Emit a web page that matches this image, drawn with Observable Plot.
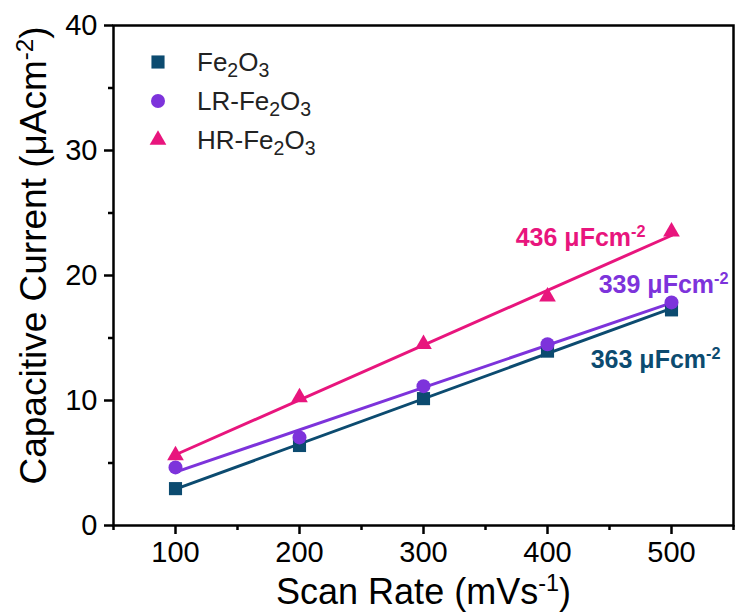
<!DOCTYPE html>
<html><head><meta charset="utf-8">
<script src="https://cdn.jsdelivr.net/npm/d3@7"></script>
<script src="https://cdn.jsdelivr.net/npm/@observablehq/plot@0.6"></script>
<style>
body{margin:0;background:#fff}
#chart{position:relative;width:735px;height:615px}
</style>
</head><body><div id="chart"></div>
<script>
// ---- data ----
const scanRates = [100, 200, 300, 400, 500];
const seriesNames = ["Fe_{2}O_{3}", "LR-Fe_{2}O_{3}", "HR-Fe_{2}O_{3}"];
const fe2o3 = [2.95, 6.4, 10.15, 13.95, 17.25];
const lrFe2o3 = [4.65, 7.05, 11.15, 14.5, 17.85];
const hrFe2o3 = [5.6, 10.25, 14.5, 18.3, 23.5];
const capacitanceLabels = ["363 μFcm^{-2}", "339 μFcm^{-2}", "436 μFcm^{-2}"];
const xTicks = [100, 200, 300, 400, 500];
const xMinorTicks = [50, 150, 250, 350, 450, 550];
const yTicks = [0, 10, 20, 30, 40];
const yMinorTicks = [5, 15, 25, 35];
const xTitle = "Scan Rate (mVs^{-1})";
const yTitle = "Capacitive Current (μAcm^{-2})";

// ---- styles ----
const FONT = "'Liberation Sans', Arial, Helvetica, sans-serif";
const styles = [
  {color: "#0c4b70", symbol: "square", r: 7.4, dx: 49, dy: 58},
  {color: "#7d33db", symbol: "circle", r: 7, dx: 57, dy: -9},
  {color: "#e8157d", symbol: "triangle", r: 6.2, dx: -26, dy: 14}
];
const seriesValues = [fe2o3, lrFe2o3, hrFe2o3];
const series = seriesNames.map((name, i) => ({
  name, label: capacitanceLabels[i],
  rows: scanRates.map((x, j) => ({x, y: seriesValues[i][j]})),
  ...styles[i]
}));

const marks = [];
for (const s of series) {
  marks.push(Plot.linearRegressionY(s.rows, {x: "x", y: "y", stroke: s.color, strokeWidth: 3, ci: 0}));
}
for (const s of series) {
  marks.push(Plot.dot(s.rows, {x: "x", y: "y", symbol: () => s.symbol, r: s.r, fill: s.color, stroke: "none"}));
}
for (const s of series) {
  const last = s.rows[s.rows.length - 1];
  marks.push(Plot.text([last], {x: "x", y: "y", text: () => s.label, fill: s.color, fontSize: 25, fontWeight: "bold",
    textAnchor: "end", lineAnchor: "bottom", dx: s.dx, dy: s.dy}));
}

const chart = Plot.plot({
  width: 735, height: 615,
  marginLeft: 113, marginRight: 2, marginTop: 25, marginBottom: 90,
  style: {fontFamily: FONT, color: "#000", background: "#fff", overflow: "visible"},
  x: {domain: [50, 550]},
  y: {domain: [0, 40]},
  symbol: {type: "identity"},
  marks: [
    ...marks,
    Plot.axisX({ticks: xTicks, tickSize: 9, tickPadding: 7, fontSize: 29, strokeWidth: 2.5, label: null}),
    Plot.axisX({ticks: xMinorTicks, tickSize: 5, text: null, strokeWidth: 2.5, label: null}),
    Plot.axisY({ticks: yTicks, tickSize: 9, tickPadding: 7, fontSize: 29, strokeWidth: 2.5, label: null}),
    Plot.axisY({ticks: yMinorTicks, tickSize: 5, text: null, strokeWidth: 2.5, label: null}),
    Plot.frame({strokeWidth: 2.5, stroke: "#000"}),
    Plot.text([xTitle], {frameAnchor: "bottom", text: d => d, fontSize: 36, textAnchor: "middle", lineAnchor: "bottom", dy: 78, fill: "#000"}),
    Plot.text([yTitle], {frameAnchor: "left", text: d => d, fontSize: 37, rotate: -90, textAnchor: "middle", lineAnchor: "middle", dx: -79, dy: -20, fill: "#000"})
  ]
});
document.getElementById("chart").appendChild(chart);

// ---- rich text (sub/superscripts) ----
function richify(el, supShift = 0.36, subShift = 0.24, supSize = 0.65, subSize = 0.75) {
  const s = el.textContent;
  if (!/[_^]\{/.test(s)) return;
  const base = parseFloat(getComputedStyle(el).fontSize);
  el.textContent = "";
  const re = /([_^])\{([^}]*)\}|([^_^]+)/g;
  let m, offset = 0;
  while ((m = re.exec(s))) {
    const t = document.createElementNS("http://www.w3.org/2000/svg", "tspan");
    if (m[3] !== undefined) {
      t.textContent = m[3];
      t.setAttribute("dy", -offset); offset = 0;
    } else if (m[1] === "^") {
      t.textContent = m[2];
      t.setAttribute("font-size", base * supSize);
      const target = -supShift * base;
      t.setAttribute("dy", target - offset); offset = target;
    } else {
      t.textContent = m[2];
      t.setAttribute("font-size", base * subSize);
      const target = subShift * base;
      t.setAttribute("dy", target - offset); offset = target;
    }
    el.appendChild(t);
  }
}
d3.select(chart).selectAll("text").each(function() { richify(this); });

// ---- legend ----
const svg = d3.select(chart);
const lg = svg.append("g").attr("font-family", FONT).attr("text-anchor", "start");
const legendX = 158, legendY0 = 62, legendStep = 39;
series.forEach((s, i) => {
  const y = legendY0 + i * legendStep;
  const type = {square: d3.symbolSquare, circle: d3.symbolCircle, triangle: d3.symbolTriangle}[s.symbol];
  lg.append("path").attr("transform", `translate(${legendX},${y})`)
    .attr("d", d3.symbol(type, Math.PI * s.r * s.r)()).attr("fill", s.color);
  const t = lg.append("text").attr("x", legendX + 39).attr("y", y + 9).attr("font-size", 26)
    .attr("text-anchor", "start").attr("fill", "#222").text(s.name);
  richify(t.node());
});
</script>
</body></html>
